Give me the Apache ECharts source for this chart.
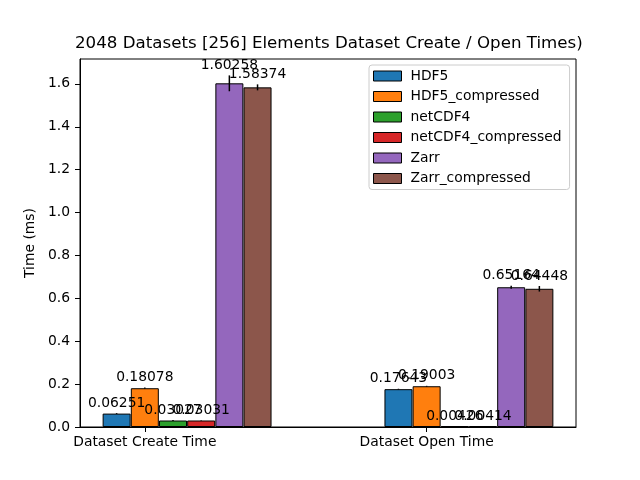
<!DOCTYPE html>
<html>
<head>
<meta charset="utf-8">
<script src="https://cdn.jsdelivr.net/npm/echarts@6/dist/echarts.min.js"></script>
<style>html,body{margin:0;padding:0;background:#fff}#c{width:640px;height:480px}</style>
</head>
<body>
<div id="c"></div>
<script>
const categories = ['Dataset Create Time', 'Dataset Open Time'];
const seriesNames = ['HDF5', 'HDF5_compressed', 'netCDF4', 'netCDF4_compressed', 'Zarr', 'Zarr_compressed'];
const HDF5 = [0.06251, 0.17643];
const HDF5_compressed = [0.18078, 0.19003];
const netCDF4 = [0.03027, 0.00426];
const netCDF4_compressed = [0.03031, 0.00414];
const Zarr = [1.60258, 0.65164];
const Zarr_compressed = [1.58374, 0.64448];
const HDF5_err = [0.002, 0.002];
const HDF5_compressed_err = [0.003, 0.002];
const netCDF4_err = [0.002, 0.0005];
const netCDF4_compressed_err = [0.001, 0.0005];
const Zarr_err = [0.037, 0.007];
const Zarr_compressed_err = [0.014, 0.013];
const yTicks = [0, 0.2, 0.4, 0.6, 0.8, 1.0, 1.2, 1.4, 1.6];
const xTicks = [0, 1];

const values = [HDF5, HDF5_compressed, netCDF4, netCDF4_compressed, Zarr, Zarr_compressed];
const errs = [HDF5_err, HDF5_compressed_err, netCDF4_err, netCDF4_compressed_err, Zarr_err, Zarr_compressed_err];
const colors = ['#1f77b4', '#ff7f0e', '#2ca02c', '#d62728', '#9467bd', '#8c564b'];
const FONT = 'DejaVu Sans';
const FS = 13.89;
const barW = 0.1;

const series = [];
const errData = [];
const errLabels = [];
values.forEach((vals, i) => {
  const off = (i - 1) * barW;
  series.push({
    name: seriesNames[i],
    type: 'bar',
    barWidth: 28,
    barGap: '-100%',
    itemStyle: { color: colors[i], borderColor: '#000', borderWidth: 1 },
    data: vals.map((v, j) => [j + off, v]),
    z: 2
  });
  vals.forEach((v, j) => {
    errData.push([j + off, v, errs[i][j]]);
    errLabels.push(v.toFixed(5));
  });
});

series.push({
  type: 'custom',
  z: 5,
  clip: false,
  data: errData,
  encode: { x: 0, y: 1 },
  renderItem: function (params, api) {
    const x = api.value(0), v = api.value(1), e = api.value(2);
    const p1 = api.coord([x, v - e]);
    const p2 = api.coord([x, v + e]);
    return {
      type: 'group',
      children: [
        { type: 'line', shape: { x1: p1[0], y1: p1[1], x2: p2[0], y2: p2[1] },
          style: { stroke: '#000', lineWidth: 1.5 } },
        { type: 'text', style: { text: errLabels[params.dataIndex], x: p2[0], y: p2[1] - 3,
          align: 'center', verticalAlign: 'bottom', fontSize: FS, fontFamily: FONT, fill: '#000' } }
      ]
    };
  }
});

const chart = echarts.init(document.getElementById('c'), null, { renderer: 'canvas' });
chart.setOption({
  animation: false,
  backgroundColor: '#fff',
  title: {
    text: '2048 Datasets [256] Elements Dataset Create / Open Times)',
    left: 75, top: 35,
    padding: 0,
    textStyle: { fontFamily: FONT, fontSize: 16.67, fontWeight: 'normal', color: '#000' }
  },
  legend: {
    data: seriesNames,
    orient: 'vertical',
    left: 369, top: 65,
    icon: 'rect',
    itemWidth: 28, itemHeight: 10,
    itemGap: 6.5,
    padding: [4, 8, 4, 4],
    backgroundColor: '#fff',
    borderColor: '#ccc', borderWidth: 1, borderRadius: 3,
    itemStyle: { borderColor: '#000', borderWidth: 1 },
    textStyle: { fontFamily: FONT, fontSize: FS, color: '#000', lineHeight: 14, padding: [0, 0, 0, 4] }
  },
  grid: { left: 80, right: 64, top: 59, bottom: 53, show: true, borderColor: '#000', borderWidth: 1, backgroundColor: 'transparent' },
  xAxis: {
    type: 'value',
    min: -0.23, max: 1.53,
    splitLine: { show: false },
    axisLine: { onZero: false, lineStyle: { color: '#000' } },
    axisTick: { show: true, length: 5, lineStyle: { color: '#000' }, customValues: xTicks },
    axisLabel: {
      customValues: xTicks, margin: 8,
      fontFamily: FONT, fontSize: FS, color: '#000',
      formatter: v => categories[Math.round(v)] || ''
    }
  },
  yAxis: {
    type: 'value',
    min: 0, max: 1.716,
    name: 'Time (ms)', nameLocation: 'middle', nameGap: 38, nameRotate: 90,
    nameTextStyle: { fontFamily: FONT, fontSize: FS, color: '#000' },
    splitLine: { show: false },
    axisLine: { show: true, onZero: false, lineStyle: { color: '#000' } },
    axisTick: { show: true, length: 5, lineStyle: { color: '#000' }, customValues: yTicks },
    axisLabel: {
      customValues: yTicks, margin: 10,
      fontFamily: FONT, fontSize: FS, color: '#000',
      formatter: v => v.toFixed(1)
    }
  },
  series: series
});
</script>
</body>
</html>
